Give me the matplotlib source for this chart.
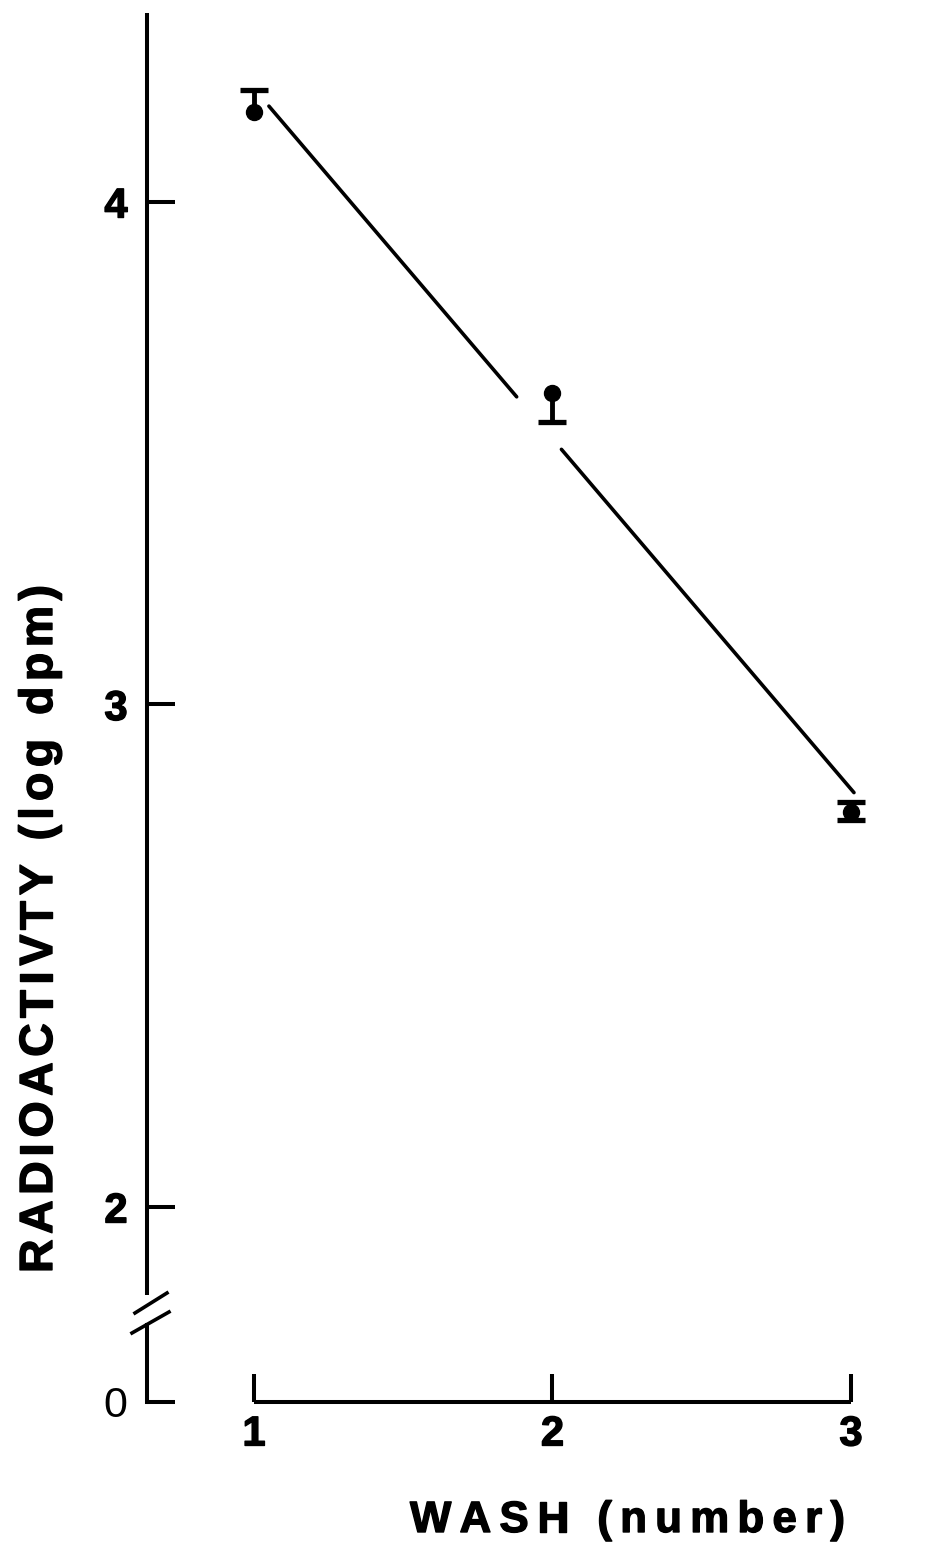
import numpy as np
import matplotlib
matplotlib.use('Agg')
import matplotlib.pyplot as plt
import matplotlib.patheffects as pe
from matplotlib import font_manager, ft2font

# data
wash = [1, 2, 3]
log_dpm = [4.180, 3.620, 2.786]
err_low = [0.0, 0.058, 0.016]
err_high = [0.043, 0.0, 0.020]
fit_spans = [(1.05, 1.88), (2.03, 3.01)]   # drawn pieces of the fitted line
y_ticks = [2, 3, 4]
x_ticks = [1, 2, 3]
zero_level = 1.612   # where the "0" of the broken axis sits
break_lo, break_hi = 1.765, 1.825

W, H = 930, 1561
fig = plt.figure(figsize=(W / 100, H / 100), dpi=100)
ax = fig.add_axes([0, 0, 1, 1])
ax.set_xlim(0.1491, 3.2647)
ax.set_ylim(1.2955, 4.402)

axis_x = 0.6415
ink = 'black'
heavy = [pe.withStroke(linewidth=1.0, foreground=ink)]

# regression line with the gaps the drawing has
slope, icept = np.polyfit(wash, log_dpm, 1)
for a, b in fit_spans:
    xs = np.array([a, b])
    ax.plot(xs, slope * xs + icept, color=ink, lw=2.6, solid_capstyle='round')

# one-sided error bars
for x, y, lo, hi in zip(wash, log_dpm, err_low, err_high):
    for e in (-lo, hi):
        if e != 0:
            ax.vlines(x, y, y + e, color=ink, lw=3.5)
            ax.plot([x], [y + e], marker='_', ms=19.5, mew=3.8, color=ink)
ax.plot(wash, log_dpm, 'o', ms=11.5, color=ink, zorder=5)

# axes
for s in ('top', 'right'):
    ax.spines[s].set_visible(False)
ax.spines['left'].set_position(('data', axis_x))
ax.spines['left'].set_bounds(break_hi, 4.376)
ax.spines['bottom'].set_position(('data', zero_level))
ax.spines['bottom'].set_bounds(1, 3)
for s in ('left', 'bottom'):
    ax.spines[s].set_linewidth(2.9)
    ax.spines[s].set_capstyle('butt')

# lower stub of the broken y axis and the break marks
ax.plot([axis_x, axis_x], [zero_level, break_lo], color=ink, lw=2.9)
px = lambda p: 1 + (p - 254) / 298.5
py = lambda p: 4 - (p - 202) / 502.5
ax.plot([px(135), px(167)], [py(1313), py(1293)], color=ink, lw=2.6)
ax.plot([px(132), px(169)], [py(1333), py(1312)], color=ink, lw=2.6)

ax.set_xticks(x_ticks)
ax.set_yticks([zero_level] + y_ticks, ['0'] + [str(t) for t in y_ticks])
ax.tick_params(direction='in', length=20, width=2.9, color=ink,
               labelsize=30, labelfontfamily='Liberation Sans')
ax.tick_params(axis='x', pad=9)
ax.tick_params(axis='y', pad=14)
for lab in ax.get_xticklabels() + ax.get_yticklabels():
    lab.set_fontweight('bold')
    lab.set_path_effects(heavy)
zero_lab = ax.yaxis.get_major_ticks()[0].label1
zero_lab.set_fontweight('normal')
zero_lab.set_path_effects([])
zero_lab.set_fontsize(31)


def spaced_text(s, start, end, base, size, vertical=False):
    fp = font_manager.FontProperties(family='Liberation Sans', weight='bold', size=size)
    font = ft2font.FT2Font(font_manager.findfont(fp))
    font.set_size(size, fig.dpi)
    adv = [font.load_char(ord(c)).linearHoriAdvance / 65536 for c in s]
    gap = (abs(end - start) - sum(adv)) / (len(s) - 1)
    pos = start
    for c, a in zip(s, adv):
        if vertical:
            t = fig.text(base / W, 1 - pos / H, c, rotation=90, rotation_mode='anchor',
                         ha='left', va='baseline', fontproperties=fp, color=ink)
            pos -= a + gap
        else:
            t = fig.text(pos / W, 1 - base / H, c, ha='left', va='baseline',
                         fontproperties=fp, color=ink)
            pos += a + gap
        t.set_path_effects(heavy)


spaced_text('WASH (number)', 410, 845, 1532, 31.5)
spaced_text('RADIOACTIVTY (log dpm)', 1273, 585, 52, 33.5, vertical=True)

fig.savefig('out.png', dpi=100)
